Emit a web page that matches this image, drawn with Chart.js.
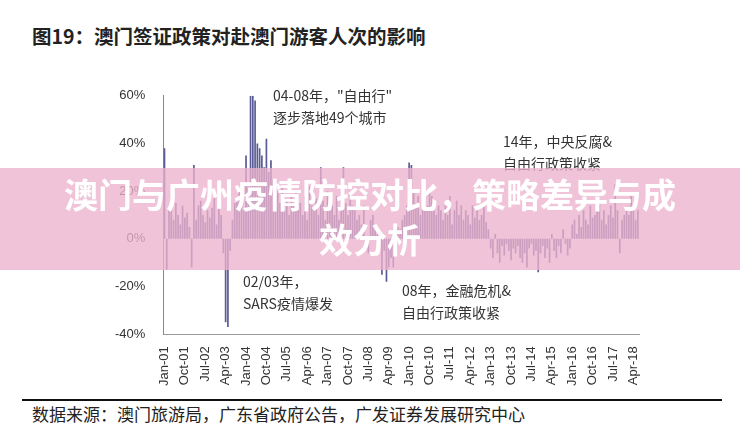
<!DOCTYPE html>
<html><head><meta charset="utf-8">
<script src="https://cdn.jsdelivr.net/npm/chart.js@4"></script>
<style>
body{margin:0;width:740px;height:436px;background:#fff;position:relative;overflow:hidden;font-family:"Noto Sans CJK SC",sans-serif}
#title{position:absolute;left:32px;top:21px;font-size:19.5px;font-weight:bold;color:#222}
#src{position:absolute;left:32px;top:401px;font-size:17px;color:#222}
#rule{position:absolute;left:22px;top:399px;width:700px;height:2px;background:#111}
#band{position:absolute;left:0;top:168px;width:740px;height:102px;background:rgba(236,178,205,0.78)}
#bt{position:absolute;left:0;top:171px;width:740px;text-align:center;font-size:34px;font-weight:bold;color:#fff;line-height:45px}
.ann{position:absolute;font-size:14px;color:#333;line-height:22px;font-family:"Noto Sans CJK SC"}
#wrap{position:absolute;left:105px;top:78px;width:556px;height:320px}
</style></head><body>
<div id="title">图19：澳门签证政策对赴澳门游客人次的影响</div>
<div id="wrap"><canvas id="c"></canvas></div>
<div class="ann" style="left:273px;top:84px">04-08年，"自由行"<br>逐步落地49个城市</div>
<div class="ann" style="left:503px;top:130px">14年，中央反腐&amp;<br>自由行政策收紧</div>
<div class="ann" style="left:243px;top:270px">02/03年，<br>SARS疫情爆发</div>
<div class="ann" style="left:402px;top:279px">08年，金融危机&amp;<br>自由行政策收紧</div>
<div id="band"></div>
<div id="bt">澳门与广州疫情防控对比，策略差异与成<br>效分析</div>
<div id="rule"></div>
<div id="src">数据来源：澳门旅游局，广东省政府公告，广发证券发展研究中心</div>
<script>
const mon=['Jan','Feb','Mar','Apr','May','Jun','Jul','Aug','Sep','Oct','Nov','Dec'];
const labels=[];for(let y=1;y<=18;y++)for(let m=0;m<12;m++){if(y===18&&m>5)break;labels.push(mon[m]+'-'+String(y).padStart(2,'0'));}
const growth=[
38,-13,12,18,8,15,10,6,14,9,11,5,
-12,31,8,14,16,10,7,12,9,13,18,6,
14,10,-6,-35,-37,-5,8,15,17,20,14,12,
35,22,60,60,58,40,38,35,30,42,28,33,
25,18,20,15,22,12,16,10,18,14,20,12,
15,10,18,8,22,14,12,17,10,30,16,8,
20,12,14,10,18,8,12,30,15,10,20,14,
12,8,10,6,14,-4,-6,8,10,5,2,-2,
-15,-5,-18,-12,-8,-12,6,5,4,8,10,14,
32,31,20,15,18,10,12,16,14,20,18,12,
10,14,12,8,15,10,18,6,12,16,10,14,
8,12,10,6,14,9,12,8,10,15,7,4,
-4,-8,2,-6,-10,-3,-7,-2,-5,-9,-4,-6,
-3,-8,-10,-6,-12,-4,-2,-7,-5,-14,-6,-3,
-8,-4,-10,2,-5,-8,-3,-6,4,-2,-7,-4,
6,8,2,10,5,12,8,6,14,9,10,12,
15,8,12,6,10,14,9,23,12,-6,8,10,
12,10,18,14,8,12];
new Chart(document.getElementById('c'),{type:'bar',
data:{labels:labels,datasets:[{data:growth,backgroundColor:'#5b5b98',barPercentage:0.75,categoryPercentage:1}]},
options:{responsive:true,maintainAspectRatio:false,animation:false,
plugins:{legend:{display:false},tooltip:{enabled:false}},
layout:{padding:{right:2,top:2}},
scales:{
x:{grid:{display:false,drawTicks:false},border:{color:'#999'},
ticks:{autoSkip:false,maxRotation:90,minRotation:90,color:'#333',font:{size:13,family:'Liberation Sans'},padding:12,
callback:function(v,i){return i%9===0?labels[i]:null;}}},
y:{min:-40,max:60,grid:{display:false},border:{color:'#888'},
ticks:{stepSize:20,color:'#333',font:{size:13,family:'Liberation Sans'},padding:10,callback:v=>v+'%'}}}}});
</script>
</body></html>
